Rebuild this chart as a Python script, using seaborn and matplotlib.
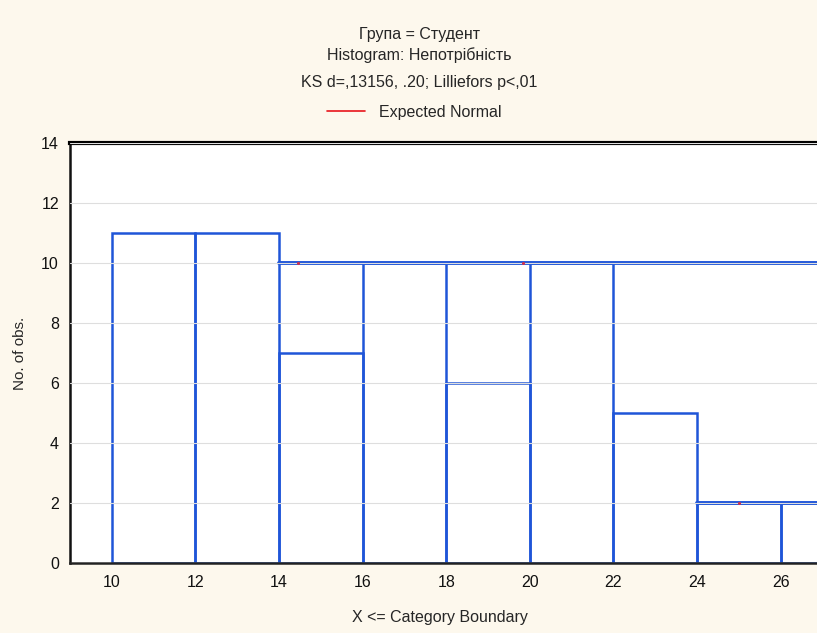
import numpy as np
import pandas as pd
import matplotlib
matplotlib.use("Agg")
import matplotlib.pyplot as plt
from matplotlib.lines import Line2D
import seaborn as sns

# ---- data ----
bin_edges = [10, 12, 14, 16, 18, 20, 22, 24, 26, 28]
counts = [11, 11, 7, 10, 6, 10, 5, 2, 2]
expected_start = [14, 24]
expected_level = [10, 2]
expected_pts_x = [14.45, 19.83, 25.0]
expected_pts_y = [10, 10, 2]
x_ticks = [10, 12, 14, 16, 18, 20, 22, 24, 26]
y_ticks = [0, 2, 4, 6, 8, 10, 12, 14]
title_lines = ["Група = Студент", "Histogram: Непотрібність", "KS d=,13156, .20; Lilliefors p<,01"]

BLUE = "#1f55d8"
BG = "#fdf8ed"
FS = 11.5

sns.set_style("white")
plt.rcParams["font.family"] = ["Liberation Sans", "DejaVu Sans"]

fig = plt.figure(figsize=(8.17, 6.33), dpi=100, facecolor=BG)
ax = fig.add_axes([0.0857, 0.1106, 0.9143, 0.6634])
ax.set_facecolor("white")

centers = [(a + b) / 2 for a, b in zip(bin_edges[:-1], bin_edges[1:])]
df = pd.DataFrame({"x": centers, "w": counts})
sns.histplot(data=df, x="x", weights="w", bins=bin_edges, fill=False,
             color=BLUE, linewidth=1.8, ax=ax, zorder=2)

# expected normal overlay (as rendered in the source)
for s, lv in zip(expected_start, expected_level):
    sns.lineplot(x=[s, 30], y=[lv, lv], color=BLUE, linewidth=2.8, ax=ax, zorder=2)
ax.scatter(expected_pts_x, expected_pts_y, s=5, color="#d0304a", zorder=4, linewidths=0)

ax.set_xlim(9.0, 26.87)
ax.set_ylim(0, 14)
ax.set_xticks(x_ticks)
ax.set_yticks(y_ticks)
ax.grid(axis="y", color="#dedede", linewidth=0.8, zorder=3)
ax.set_axisbelow(False)
ax.tick_params(axis="both", length=0, labelsize=FS, colors="#111111")
ax.tick_params(axis="x", pad=9)
ax.tick_params(axis="y", pad=8)

ax.spines["right"].set_visible(False)
ax.spines["top"].set_linewidth(3)
ax.spines["top"].set_color("#000000")
ax.spines["left"].set_linewidth(1.8)
ax.spines["left"].set_color("#111111")
ax.spines["bottom"].set_linewidth(1.8)
ax.spines["bottom"].set_color("#222222")

ax.set_xlabel("X <= Category Boundary", fontsize=FS)
ax.set_ylabel("No. of obs.", fontsize=FS - 0.5)
ax.xaxis.set_label_coords((440 - 70) / 747, (563 - 618) / 420)
ax.xaxis.label.set_va("center")
ax.yaxis.set_label_coords((20 - 70) / 747, 0.5)
ax.yaxis.label.set_va("center")

ys = [0.945, 0.913, 0.869]
for t, y in zip(title_lines, ys):
    fig.text(0.513, y, t, ha="center", va="center", fontsize=FS)

handle = Line2D([0], [0], color="#e8141c", linewidth=1.2)
ax.legend([handle], ["Expected Normal"], loc="center",
          bbox_to_anchor=(0.507, 0.823), bbox_transform=fig.transFigure,
          frameon=False, fontsize=FS, handlelength=2.4, handletextpad=0.9)

fig.savefig("out.png", dpi=100, facecolor=BG)
